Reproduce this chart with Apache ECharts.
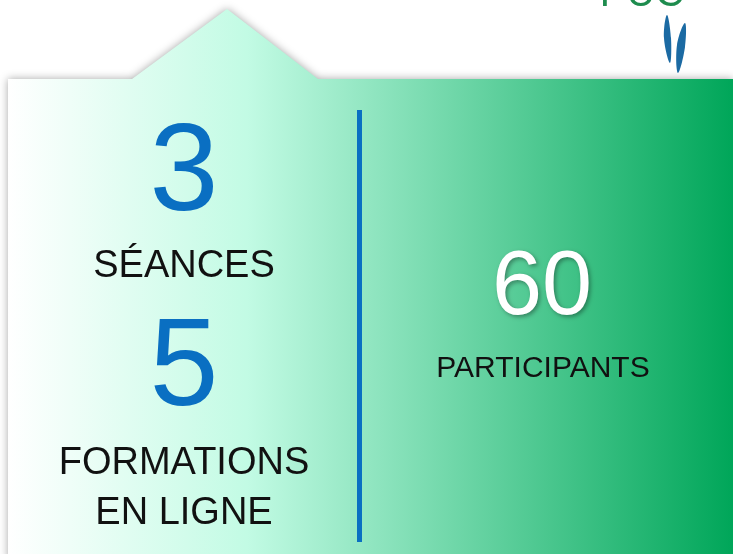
<!DOCTYPE html>
<html>
<head>
<meta charset="utf-8">
<script src="https://cdn.jsdelivr.net/npm/echarts@6/dist/echarts.min.js"></script>
<style>
  html, body { margin: 0; padding: 0; background: #ffffff; }
  #main { width: 733px; height: 554px; }
</style>
</head>
<body>
<div id="main"></div>
<script>
// chiffres clés
var counts = [3, 5];
var countLabels = ['SÉANCES', 'FORMATIONS\nEN LIGNE'];
var participants = [60];
var participantLabels = ['PARTICIPANTS'];

var blue = '#0a6fc2';
var font = '"Liberation Sans", Arial, sans-serif';

var myChart = echarts.init(document.getElementById('main'), null, { renderer: 'canvas' });

var elements = [];

// fond : panneau avec le "toit"
elements.push({
  type: 'polygon',
  shape: { points: [[8, 79], [132, 79], [227, 9], [318, 79], [733, 79], [733, 560], [8, 560]] },
  style: {
    fill: new echarts.graphic.LinearGradient(8, 0, 733, 0, [
      { offset: 0, color: '#ffffff' },
      { offset: 0.33, color: '#c2fbe4' },
      { offset: 1, color: '#00a659' }
    ], true),
    shadowBlur: 8,
    shadowColor: 'rgba(0,0,0,0.35)'
  }
});

// séparateur
elements.push({
  type: 'rect',
  shape: { x: 357, y: 110, width: 5, height: 432 },
  style: { fill: blue }
});

// logo (partiellement visible en haut à droite)
elements.push({
  type: 'text',
  style: { text: 'PUC', x: 642, y: 15, textAlign: 'center', textVerticalAlign: 'bottom',
           font: '40px ' + font, fill: '#1e8c4e' }
});
elements.push({
  type: 'polygon',
  shape: { points: [[667, 15], [664, 38], [670, 63], [671, 38]], smooth: 0.4 },
  style: { fill: '#1b6aa3' }
});
elements.push({
  type: 'polygon',
  shape: { points: [[685, 23], [677, 45], [678, 73], [685, 47]], smooth: 0.4 },
  style: { fill: '#1b6aa3' }
});

// colonne gauche
var numY = [176, 371];
var labelY = [267, 464];
counts.forEach(function (v, i) {
  elements.push({
    type: 'text',
    style: { text: String(v), x: 184, y: numY[i], textAlign: 'center', textVerticalAlign: 'middle',
             font: '124px ' + font, fill: blue }
  });
  countLabels[i].split('\n').forEach(function (line, j) {
    elements.push({
      type: 'text',
      style: { text: line, x: 184, y: labelY[i] + j * 50, textAlign: 'center', textVerticalAlign: 'middle',
               font: '38px ' + font, fill: '#111111' }
    });
  });
});

// colonne droite
participants.forEach(function (v, i) {
  elements.push({
    type: 'text',
    style: { text: String(v), x: 542, y: 289, textAlign: 'center', textVerticalAlign: 'middle',
             font: '90px ' + font, fill: '#ffffff',
             textShadowColor: 'rgba(0,0,0,0.35)', textShadowBlur: 4, textShadowOffsetX: 2, textShadowOffsetY: 2 }
  });
  elements.push({
    type: 'text',
    style: { text: participantLabels[i], x: 543, y: 369, textAlign: 'center', textVerticalAlign: 'middle',
             font: '30px ' + font, fill: '#111111' }
  });
});

var option = {
  animation: false,
  graphic: { elements: elements }
};

myChart.setOption(option);
</script>
</body>
</html>
